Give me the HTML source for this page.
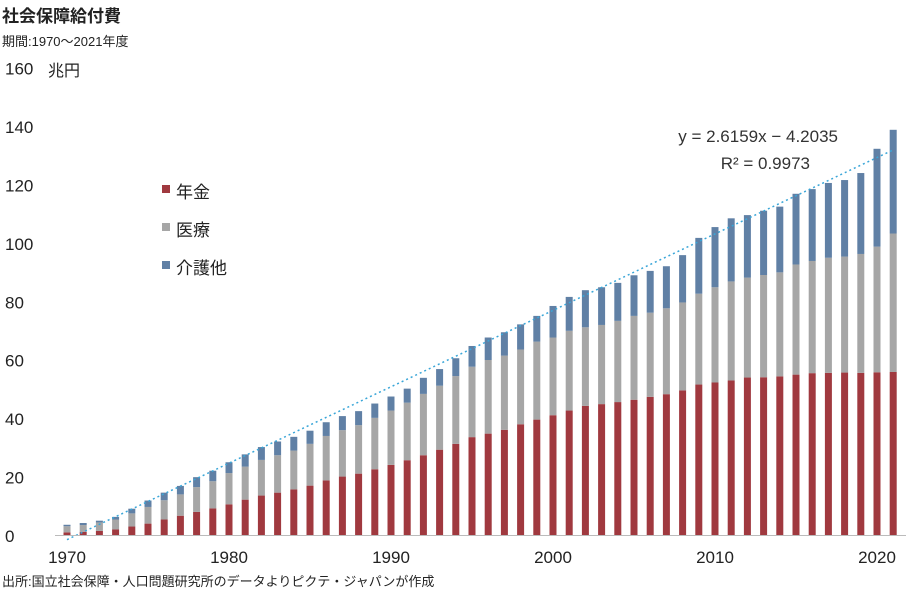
<!DOCTYPE html>
<html><head><meta charset="utf-8">
<style>
body{margin:0;background:#fff;width:923px;height:595px;overflow:hidden;font-family:"Liberation Sans","Noto Sans CJK JP",sans-serif;}
svg text{font-family:"Liberation Sans","Noto Sans CJK JP",sans-serif;}
</style></head><body>
<svg id="chart" width="923" height="595">
<text x="2" y="22" font-size="17" font-weight="bold" fill="#222">社会保障給付費</text>
<text x="2" y="46" font-size="13" fill="#222">期間:1970～2021年度</text>
<text x="48" y="76" font-size="16" fill="#222">兆円</text>
<text x="2" y="586" font-size="13" fill="#222">出所:国立社会保障・人口問題研究所のデータよりピクテ・ジャパンが作成</text>
<g id="yticks"></g><g id="xticks"></g><g id="bars"></g><g id="trend"></g>
<line x1="55" y1="535.5" x2="906" y2="535.5" stroke="#bbb" stroke-width="1"/>
<text x="838" y="142" font-size="17" fill="#333" text-anchor="end">y = 2.6159x − 4.2035</text>
<text x="810" y="169" font-size="17" fill="#333" text-anchor="end">R² = 0.9973</text>
<g>
<rect x="162" y="185" width="8" height="8" fill="#a0393f"/>
<text x="176" y="198" font-size="17" fill="#222">年金</text>
<rect x="162" y="223" width="8" height="8" fill="#a6a6a6"/>
<text x="176" y="236" font-size="17" fill="#222">医療</text>
<rect x="162" y="261" width="8" height="8" fill="#6080a5"/>
<text x="176" y="274" font-size="17" fill="#222">介護他</text>
</g>
</svg>
<script>
const years=[];for(let y=1970;y<=2021;y++)years.push(y);
const pension=[0.9,1.1,1.4,1.9,2.9,3.9,5.3,6.6,7.9,9.1,10.5,12.1,13.5,14.5,15.6,16.9,18.7,20.0,21.0,22.5,24.0,25.6,27.3,29.2,31.2,33.5,34.7,36.0,37.9,39.5,41.0,42.6,44.2,44.8,45.5,46.3,47.3,48.2,49.5,51.5,52.2,52.9,53.9,54.0,54.3,54.9,55.4,55.5,55.6,55.5,55.7,55.8];
const medical=[2.1,2.3,2.9,3.4,4.5,5.7,6.6,7.3,8.5,9.3,10.7,11.3,12.2,12.8,13.3,14.3,15.2,15.9,16.6,17.6,18.6,19.7,21.0,21.9,23.2,24.1,25.2,25.4,25.6,26.7,26.6,27.3,26.9,27.1,27.8,28.7,28.8,29.4,30.1,31.1,32.6,33.9,34.2,35.0,35.6,37.7,38.4,39.4,39.7,40.7,43.0,47.4];
const welfare=[0.5,0.7,0.6,0.9,1.6,2.2,2.6,2.9,3.4,3.6,3.7,4.2,4.4,4.7,4.7,4.5,4.7,4.8,4.8,4.9,4.8,4.8,5.5,5.7,6.1,7.1,7.7,8.0,8.6,8.8,10.8,11.6,12.7,12.9,13.0,13.9,14.3,14.4,16.2,19.1,20.6,21.6,21.4,22.0,22.5,24.2,24.6,25.6,26.2,27.7,33.5,35.5];
const yTicks=[0,20,40,60,80,100,120,140,160];
const xTickLabels=[1970,1980,1990,2000,2010,2020];
const trendSlope=2.6159, trendIntercept=-4.2035;

const NS="http://www.w3.org/2000/svg";
const yPx=v=>535-v*(409/140);
const xPx=yr=>67+(yr-1970)*16.2;
function mk(tag,attrs,parent){const e=document.createElementNS(NS,tag);for(const k in attrs)e.setAttribute(k,attrs[k]);parent.appendChild(e);return e;}
const yt=document.getElementById('yticks');
yTicks.forEach(v=>{const t=mk('text',{x:5,y:yPx(v)+7,'font-size':17,fill:'#222'},yt);


t.textContent=v;});
const xt=document.getElementById('xticks');
xTickLabels.forEach(v=>{const t=mk('text',{x:xPx(v),y:563,'font-size':17,fill:'#222','text-anchor':'middle'},xt);


t.textContent=v;});
const bg=document.getElementById('bars');const w=7;
years.forEach((yr,i)=>{const x=xPx(yr)-w/2;let base=0;
[[pension[i],'#a0393f','bar-pension'],[medical[i],'#a6a6a6','bar-medical'],[welfare[i],'#6080a5','bar-welfare']].forEach(([v,c,n])=>{
const r=mk('rect',{x:x,y:yPx(base+v),width:w,height:yPx(base)-yPx(base+v),fill:c},bg);


base+=v;});});
const tl=mk('line',{x1:xPx(years[0]),y1:yPx(trendSlope*1+trendIntercept),x2:xPx(years[years.length-1]),y2:yPx(trendSlope*years.length+trendIntercept),stroke:'#3aa6d8','stroke-width':1.5,'stroke-dasharray':'2,3'},document.getElementById('trend'));


</script>
</body></html>
